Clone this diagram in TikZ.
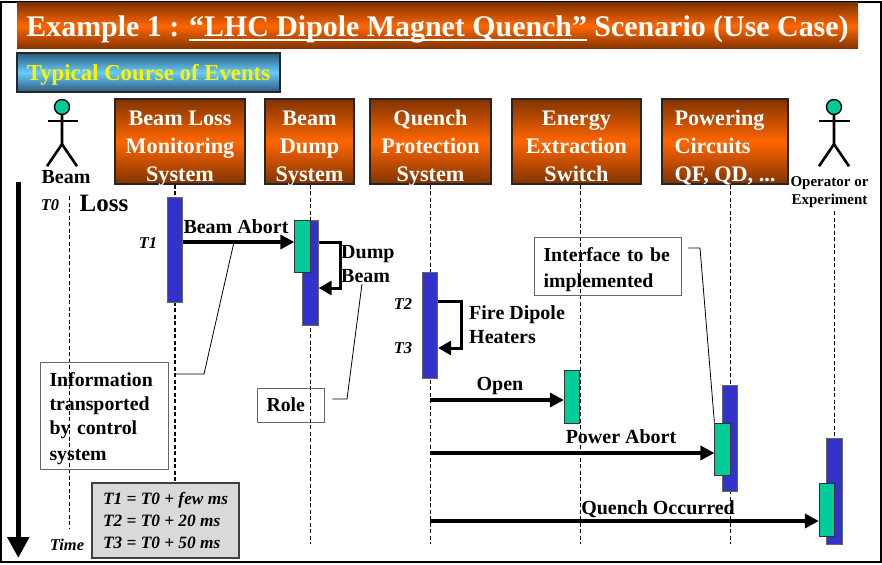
\documentclass[tikz,border=0pt]{standalone}
\usepackage{fontspec}
\setmainfont{Liberation Serif}
\usepackage{tikz}
\usetikzlibrary{positioning, shapes.geometric, arrows.meta, backgrounds}
\definecolor{brownedge}{RGB}{128,51,0}
\definecolor{orangemid}{RGB}{255,102,0}
\definecolor{tealedge}{RGB}{45,90,120}
\definecolor{skymid}{RGB}{102,204,255}
\definecolor{barblue}{RGB}{51,51,204}
\definecolor{ackgreen}{RGB}{0,204,153}
\tikzset{
    titlebox/.style={rectangle, top color=brownedge, bottom color=brownedge, middle color=orangemid, minimum width=841pt, minimum height=46pt, inner sep=0pt, text=white, font=\fontsize{29.9}{32}\selectfont\bfseries},
    subbox/.style={rectangle, draw=black!85, line width=1.2pt, top color=tealedge, bottom color=tealedge, middle color=skymid, minimum width=263pt, minimum height=39pt, inner sep=0pt, text=yellow, font=\fontsize{22.8}{25}\selectfont\bfseries},
    sysbox/.style={rectangle, draw=black!85, line width=1.2pt, top color=brownedge, bottom color=brownedge, middle color=orangemid, minimum height=85pt, inner sep=0pt, align=center, text=white, font=\fontsize{22.2}{27.5}\selectfont\bfseries},
    sysleft/.style={sysbox, align=left},
    bar/.style={rectangle, draw=black!60, line width=0.7pt, fill=barblue, minimum width=15.5pt, inner sep=0pt},
    ack/.style={rectangle, draw=black!80, line width=0.7pt, fill=ackgreen, minimum width=15.5pt, inner sep=0pt},
    note/.style={rectangle, draw=black!60, line width=0.7pt, inner xsep=9.5pt, inner ysep=0pt, align=left, font=\fontsize{19.8}{24}\selectfont\bfseries},
    lbl/.style={inner sep=0pt, align=left, font=\fontsize{20}{24}\selectfont\bfseries},
    tlbl/.style={inner sep=0pt, font=\fontsize{16.5}{20}\selectfont\bfseries\itshape},
    timesbox/.style={rectangle, draw=black!75, line width=1.5pt, fill=black!15, minimum width=147pt, minimum height=75pt, inner sep=0pt, align=left, font=\fontsize{17.3}{22}\selectfont\bfseries\itshape},
    head/.style={circle, draw=black, line width=1.4pt, fill=ackgreen, minimum size=15pt, inner sep=0pt},
    actor/.style={line width=2.6pt},
    life/.style={line width=0.7pt, dash pattern=on 4pt off 2.5pt},
    msg/.style={line width=3.4pt, -{Triangle[length=14pt,width=14pt]}},
    selfmsg/.style={line width=3pt, -{Triangle[length=13pt,width=14pt]}},
    leader/.style={line width=0.8pt},
}
\newcommand{\toprule}{\rule{0pt}{27pt}}
\newcommand{\botline}[1]{\smash{#1}\rule[-3pt]{0pt}{3pt}}
\newcommand{\noterule}{\rule{0pt}{21pt}}
\newcommand{\thickul}[1]{\setbox0\hbox{#1}\rlap{\rule[-4.5pt]{\wd0}{1.6pt}}\box0\relax}
\begin{document}
\begin{tikzpicture}[x=1pt, y=-1pt]
    \useasboundingbox (0,0) rectangle (882,564);
    \node [draw=black, line width=2pt, minimum width=880pt, minimum height=560pt, inner sep=0pt] (page) at (441,282) {};
    \node [titlebox] (title) at (437.5,26) {\smash{\raisebox{-10.5pt}{Example 1 : \thickul{“LHC Dipole Magnet Quench”} Scenario (Use Case)}}};
    \node [subbox] (course) at (148.5,72.5) {\smash{\raisebox{-8.5pt}{Typical Course of Events}}};
    \node [sysbox, minimum width=130pt] (blm) at (180,141.5) {\toprule Beam Loss\\Monitoring\\\botline{System}};
    \node [sysbox, minimum width=89pt] (dump) at (309.5,141.5) {\toprule Beam\\Dump\\\botline{System}};
    \node [sysbox, minimum width=121pt] (qps) at (430.5,141.5) {\toprule Quench\\Protection\\\botline{System}};
    \node [sysbox, minimum width=129pt] (energy) at (576.5,141.5) {\toprule Energy\\Extraction\\\botline{Switch}};
    \node [sysleft, minimum width=126pt] (powering) at (725,141.5) {\toprule Powering\\Circuits\\\botline{QF, QD, ...}};

    \node [head] (beamhead) at (62,107) {};
    \draw[actor] (beamhead.south) -- ++(0,29) coordinate (beamhip) -- ++(-15,22);
    \draw[actor] (beamhip) -- ++(15,22);
    \draw[actor] ([xshift=-14pt,yshift=-6pt]beamhead.south) -- ([xshift=16pt,yshift=-6pt]beamhead.south);
    \node [head] (ophead) at (834,107) {};
    \draw[actor] (ophead.south) -- ++(0,29) coordinate (ophip) -- ++(-15,22);
    \draw[actor] (ophip) -- ++(15,22);
    \draw[actor] ([xshift=-15pt,yshift=-6pt]ophead.south) -- ([xshift=16pt,yshift=-6pt]ophead.south);
    \node [lbl] (beamlbl) at (66,177) {Beam};
    \node [inner sep=0pt, align=center, font=\fontsize{15}{18}\selectfont\bfseries] (oplbl) at (829.5,192.5) {Operator or\\Experiment};

    \node [bar, minimum height=105pt] (blmbar) at (175,249.5) {};
    \node [bar, minimum height=105pt] (dumpbar) at (310.5,272.5) {};
    \node [ack, minimum height=52pt] (dumpack) at (302.5,246) {};
    \node [bar, minimum height=106pt] (qpsbar) at (430,325) {};
    \node [ack, minimum height=53pt] (energyack) at (572,396.5) {};
    \node [bar, minimum height=106pt] (powerbar) at (730,438) {};
    \node [ack, minimum height=52pt] (powerack) at (722.5,449) {};
    \node [bar, minimum height=106pt] (opbar) at (834.5,491) {};
    \node [ack, minimum height=53pt] (opack) at (827,509.5) {};

    \node [timesbox] (times) at (165.5,520.5) {T1 = T0 + few ms\\T2 = T0 + 20 ms\\T3 = T0 + 50 ms};
    \node [note, text width=109pt, minimum height=107pt] (infonote) at (104,415.5) {\noterule Information\\transported\\by control\\[2pt]system};
    \node [note, text width=48pt, minimum height=34pt] (rolenote) at (290.5,405) {Role};
    \node [note, text width=128pt, minimum height=58pt] (ifacenote) at (607.5,266) {\noterule Interface to be\\[1.5pt]implemented};

    \coordinate (beamtop) at (69.5,196);
    \coordinate (beamend) at (69.5,529);
    \coordinate (optop) at (834.5,211);
    \coordinate (lifeend) at (0,544);
    \coordinate (t1) at (0,242);
    \coordinate (dumpback) at (0,288);
    \coordinate (dumpturn) at (340,0);
    \coordinate (t2) at (0,301);
    \coordinate (t3) at (0,348);
    \coordinate (fireturn) at (461,0);
    \coordinate (openy) at (0,400);
    \coordinate (aborty) at (0,453);
    \coordinate (quenchy) at (0,521);
    \coordinate (timetop) at (18.3,182);
    \coordinate (timeend) at (18.3,558);
    \coordinate (infoknee) at (204,374);
    \coordinate (infotip) at (234,242);
    \coordinate (roleknee) at (347,399);
    \coordinate (roletip) at (362,284);
    \coordinate (ifaceknee) at (700,248);

    \begin{scope}[on background layer]
        \draw[life] (beamtop) -- (beamend);
        \draw[life, line width=1.1pt] (blmbar |- blm.south) -- (blmbar |- times.north);
        \draw[life] (dumpbar |- dump.south) -- (dumpbar |- lifeend);
        \draw[life] (qpsbar |- qps.south) -- (qpsbar |- lifeend);
        \draw[life] (energyack.east |- energy.south) -- (energyack.east |- lifeend);
        \draw[life] (powerbar |- powering.south) -- (powerbar |- lifeend);
        \draw[life] (optop) -- (opbar.north);
    \end{scope}

    \draw[msg] (blmbar.east |- t1) -- (dumpack.west |- t1);
    \draw[selfmsg] (dumpbar.east |- t1) -| (dumpturn |- dumpback) -- (dumpbar.east |- dumpback);
    \draw[selfmsg] (qpsbar.east |- t2) -| (fireturn |- t3) -- (qpsbar.east |- t3);
    \draw[msg] (qpsbar |- openy) -- (energyack.west |- openy);
    \draw[msg] (qpsbar |- aborty) -- (powerack.west |- aborty);
    \draw[msg] (qpsbar |- quenchy) -- (opack.west |- quenchy);
    \draw[line width=5.3pt, -{Triangle[length=21pt,width=21pt]}] (timetop) -- (timeend);

    \draw[leader] (blmbar |- infoknee) -- (infoknee) -- (infotip);
    \draw[leader] ([xshift=8pt]rolenote.east |- roleknee) -- (roleknee) -- (roletip);
    \draw[leader] ([xshift=7pt]ifacenote.east |- ifaceknee) -- (ifaceknee) -- (powerack.north west);

    \node [lbl, font=\fontsize{25}{27}\selectfont\bfseries] (losslbl) at (104,203) {Loss};
    \node [tlbl] (t0lbl) at (50,205) {T0};
    \node [tlbl] (t1lbl) at (148,243) {T1};
    \node [tlbl] (t2lbl) at (403,304) {T2};
    \node [tlbl] (t3lbl) at (403,348) {T3};
    \node [tlbl] (timelbl) at (67,545) {Time};
    \node [lbl] (abortlbl) at (236,227) {Beam Abort};
    \node [lbl, anchor=west] (dumplbl) at (341,264) {Dump\\Beam};
    \node [lbl, anchor=west] (firelbl) at (469,325) {Fire Dipole\\Heaters};
    \node [lbl] (openlbl) at (500,386) {Open};
    \node [lbl] (powerlbl) at (621,437) {Power Abort};
    \node [lbl] (quenchlbl) at (658,509) {Quench Occurred};
\end{tikzpicture}
\end{document}
